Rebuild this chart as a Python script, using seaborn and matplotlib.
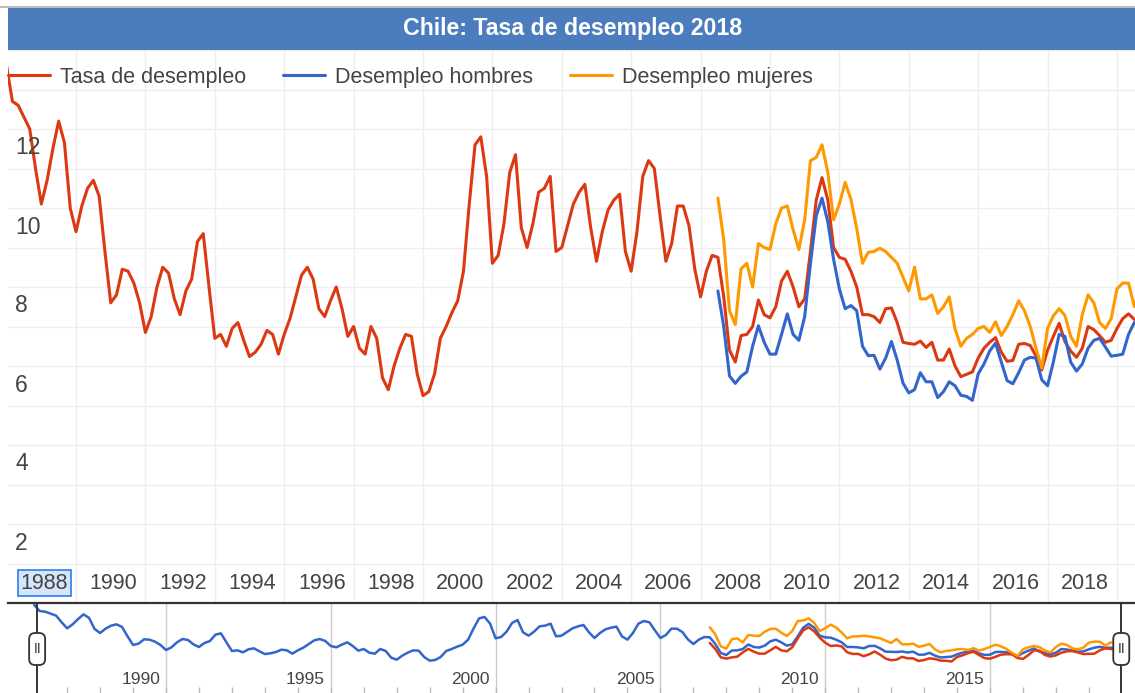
import pandas as pd
import seaborn as sns
import matplotlib.pyplot as plt
from matplotlib.patches import Rectangle, FancyBboxPatch

# datos (serie bimestral)
inicio_total = "1986-01-01"
inicio_sexo = "2006-07-01"

tasa_total = [
    13.6, 12.7, 12.6, 12.3, 12.0, 11.0, 10.1, 10.7, 11.5, 12.2, 11.65, 10.0,
    9.4, 10.05, 10.5, 10.7, 10.3, 8.9, 7.6, 7.8, 8.45, 8.4, 8.1, 7.6,
    6.85, 7.25, 8.0, 8.5, 8.35, 7.7, 7.3, 7.9, 8.2, 9.15, 9.35, 8.0,
    6.7, 6.8, 6.5, 6.95, 7.1, 6.65, 6.24, 6.35, 6.55, 6.9, 6.8, 6.3,
    6.8, 7.2, 7.75, 8.3, 8.5, 8.2, 7.45, 7.25, 7.65, 8.0, 7.45, 6.75,
    7.0, 6.45, 6.3, 7.0, 6.7, 5.7, 5.4, 6.0, 6.45, 6.8, 6.75, 5.8,
    5.25, 5.35, 5.8, 6.7, 7.0, 7.35, 7.65, 8.4, 10.1, 11.6, 11.8, 10.8,
    8.6, 8.8, 9.6, 10.9, 11.35, 9.5, 9.0, 9.6, 10.4, 10.5, 10.8, 8.9,
    9.0, 9.55, 10.1, 10.4, 10.6, 9.5, 8.65, 9.4, 9.95, 10.2, 10.35, 8.9,
    8.4, 9.4, 10.8, 11.2, 11.0, 9.8, 8.65, 9.1, 10.05, 10.05, 9.55, 8.45,
    7.75, 8.4, 8.8, 8.75, 7.75, 6.4, 6.1, 6.77, 6.8, 7.0, 7.67, 7.3,
    7.22, 7.5, 8.15, 8.4, 8.0, 7.5, 7.7, 8.9, 10.2, 10.77, 10.2, 9.0,
    8.75, 8.7, 8.4, 8.0, 7.3, 7.3, 7.25, 7.1, 7.45, 7.47, 7.1, 6.6,
    6.57, 6.55, 6.63, 6.47, 6.6, 6.15, 6.15, 6.43, 6.0, 5.73, 5.79, 5.85,
    6.2, 6.45, 6.6, 6.72, 6.35, 6.12, 6.14, 6.55, 6.57, 6.52, 6.25, 5.9,
    6.4, 6.75, 7.08, 6.62, 6.38, 6.22, 6.45, 7.0, 6.92, 6.77, 6.6, 6.65,
    6.95, 7.2, 7.32, 7.18, 7.2, 7.1,
]
tasa_hombres = [
    7.9, 7.0, 5.75, 5.56, 5.74, 5.85, 6.5, 7.02, 6.6, 6.3, 6.3, 6.8,
    7.32, 6.8, 6.65, 7.25, 8.6, 9.8, 10.25, 9.65, 8.7, 7.95, 7.45, 7.53,
    7.4, 6.5, 6.26, 6.27, 5.92, 6.2, 6.62, 6.15, 5.57, 5.32, 5.4, 5.83,
    5.6, 5.6, 5.2, 5.35, 5.6, 5.5, 5.26, 5.23, 5.13, 5.8, 6.05, 6.38,
    6.58, 6.1, 5.63, 5.55, 5.83, 6.15, 6.22, 6.2, 5.65, 5.5, 6.1, 6.8,
    6.75, 6.1, 5.87, 6.05, 6.45, 6.65, 6.7, 6.48, 6.25, 6.27, 6.3, 6.8,
    7.1, 7.0, 6.9,
]
tasa_mujeres = [
    10.25, 9.2, 7.4, 7.05, 8.46, 8.6, 8.0, 9.1, 9.0, 8.95, 9.6, 10.0,
    10.05, 9.45, 8.95, 9.7, 11.2, 11.28, 11.6, 10.9, 9.7, 10.1, 10.65, 10.22,
    9.48, 8.6, 8.88, 8.9, 8.98, 8.9, 8.75, 8.6, 8.25, 7.9, 8.5, 7.7,
    7.7, 7.8, 7.33, 7.5, 7.75, 6.94, 6.5, 6.7, 6.8, 6.95, 7.0, 6.85,
    7.12, 6.77, 7.0, 7.3, 7.65, 7.4, 7.0, 6.45, 5.95, 6.95, 7.27, 7.45,
    7.28, 6.75, 6.5, 7.3, 7.8, 7.6, 7.1, 6.95, 7.2, 7.95, 8.1, 8.1,
    7.5, 8.0, 7.9,
]

series = ["Tasa de desempleo", "Desempleo hombres", "Desempleo mujeres"]
colores = ["#DC3912", "#3366CC", "#FF9900"]
colores_nav = ["#3366CC", "#DC3912", "#FF9900"]
anios_eje = list(range(1988, 2019, 2))
etiquetas_y = [2, 4, 6, 8, 10, 12]
anios_nav = [1990, 1995, 2000, 2005, 2010, 2015]
titulo = "Chile: Tasa de desempleo 2018"


def a_anio(inicio, n):
    f = pd.date_range(inicio, periods=n, freq="2MS")
    return f.year + (f.month - 1) / 12


df = pd.concat([
    pd.DataFrame({"anio": a_anio(inicio_total, len(tasa_total)), "tasa": tasa_total, "serie": series[0]}),
    pd.DataFrame({"anio": a_anio(inicio_sexo, len(tasa_hombres)), "tasa": tasa_hombres, "serie": series[1]}),
    pd.DataFrame({"anio": a_anio(inicio_sexo, len(tasa_mujeres)), "tasa": tasa_mujeres, "serie": series[2]}),
], ignore_index=True)

sns.set_style("white")
plt.rcParams["font.family"] = ["Liberation Sans", "DejaVu Sans"]
gris = "#444444"
letra = 15.5

W, H = 1135, 693
fig = plt.figure(figsize=(W / 100, H / 100), dpi=100)

# grafico principal
ax = fig.add_axes([8 / W, 90 / H, 1127 / W, 553 / H])
sns.lineplot(data=df, x="anio", y="tasa", hue="serie", hue_order=series,
             palette=colores, estimator=None, linewidth=2.2, ax=ax)
ax.set_xlim(1986.04, 2018.52)
ax.set_ylim(0, 14)
ax.set_xticks(anios_eje)
ax.set_yticks(range(0, 15))
ax.grid(True, color="#eeeeee", lw=1)
ax.tick_params(length=0, labelleft=False, labelbottom=False)
ax.set_xlabel("")
ax.set_ylabel("")
for s in ax.spines.values():
    s.set_visible(False)

sns.move_legend(ax, "center left", bbox_to_anchor=(0, (603 - 77) / 553), ncol=3,
                frameon=False, title=None, fontsize=letra, labelcolor=gris,
                handlelength=1.95, handletextpad=0.47, columnspacing=1.72,
                borderaxespad=0, borderpad=0)
for linea in ax.get_legend().get_lines():
    linea.set_linewidth(2.2)

for v in etiquetas_y:
    ax.annotate(str(v), xy=(7 / 1127, v), xycoords=ax.get_yaxis_transform(),
                xytext=(0, -19), textcoords="offset pixels",
                ha="left", va="center", fontsize=letra + 1, color=gris)
for a in anios_eje:
    caja = None
    if a == anios_eje[0]:
        caja = dict(boxstyle="square,pad=0.12", fc="#d5e6fb", ec="#3a86f0", lw=1.3)
    ax.annotate(str(a), xy=(a, 0.5), xytext=(-8, 0), textcoords="offset pixels",
                ha="right", va="center", fontsize=letra, color=gris, bbox=caja)

# navegador inferior
nav = fig.add_axes([8 / W, 0, 1127 / W, 90 / H])
sns.lineplot(data=df, x="anio", y="tasa", hue="serie", hue_order=series,
             palette=colores_nav, estimator=None, linewidth=1.8, ax=nav, legend=False)
nav.set_xlim(1985.206, 2019.40)
nav.set_ylim(0.4, 13.9)
nav.set_xticks(anios_nav)
nav.set_yticks([])
nav.grid(True, axis="x", color="#cccccc", lw=1)
nav.tick_params(length=0, labelleft=False, labelbottom=False)
nav.set_xlabel("")
nav.set_ylabel("")
for lado, s in nav.spines.items():
    s.set_visible(lado == "top")
nav.spines["top"].set_color("#333333")
nav.spines["top"].set_linewidth(1.6)
nav.vlines(range(1987, 2019), 0.4, 1.3, color="#bbbbbb", lw=1)
for a in anios_nav:
    nav.annotate(str(a), xy=(a, 2.35), xytext=(-6, 0), textcoords="offset pixels",
                 ha="right", va="center", fontsize=12.5, color=gris)

rango = [df["anio"].min() + 0.09, df["anio"].max() + 0.15]
for r in rango:
    nav.axvline(r, color="#333333", lw=1.4)

# capa de decoracion en pixeles
capa = fig.add_axes([0, 0, 1, 1], zorder=10)
capa.set_xlim(0, W)
capa.set_ylim(H, 0)
capa.axis("off")
capa.patch.set_alpha(0)
capa.add_patch(Rectangle((8, 8), W - 8, 42, color="#4b7dbe", lw=0))
capa.plot([0, W], [7, 7], color="#b5aea8", lw=1.2)
capa.text(573, 29, titulo, color="white", fontweight="bold", fontsize=16.7,
          ha="center", va="center")
for r in rango:
    px = nav.transData.transform((r, 0))[0]
    capa.add_patch(FancyBboxPatch((px - 8, 633), 16, 32,
                                  boxstyle="round,pad=0,rounding_size=6",
                                  fc="white", ec="#333333", lw=1.3))
    capa.text(px, 649, "II", fontsize=10, ha="center", va="center", color="#333333")

fig.savefig("out.png", dpi=100)
